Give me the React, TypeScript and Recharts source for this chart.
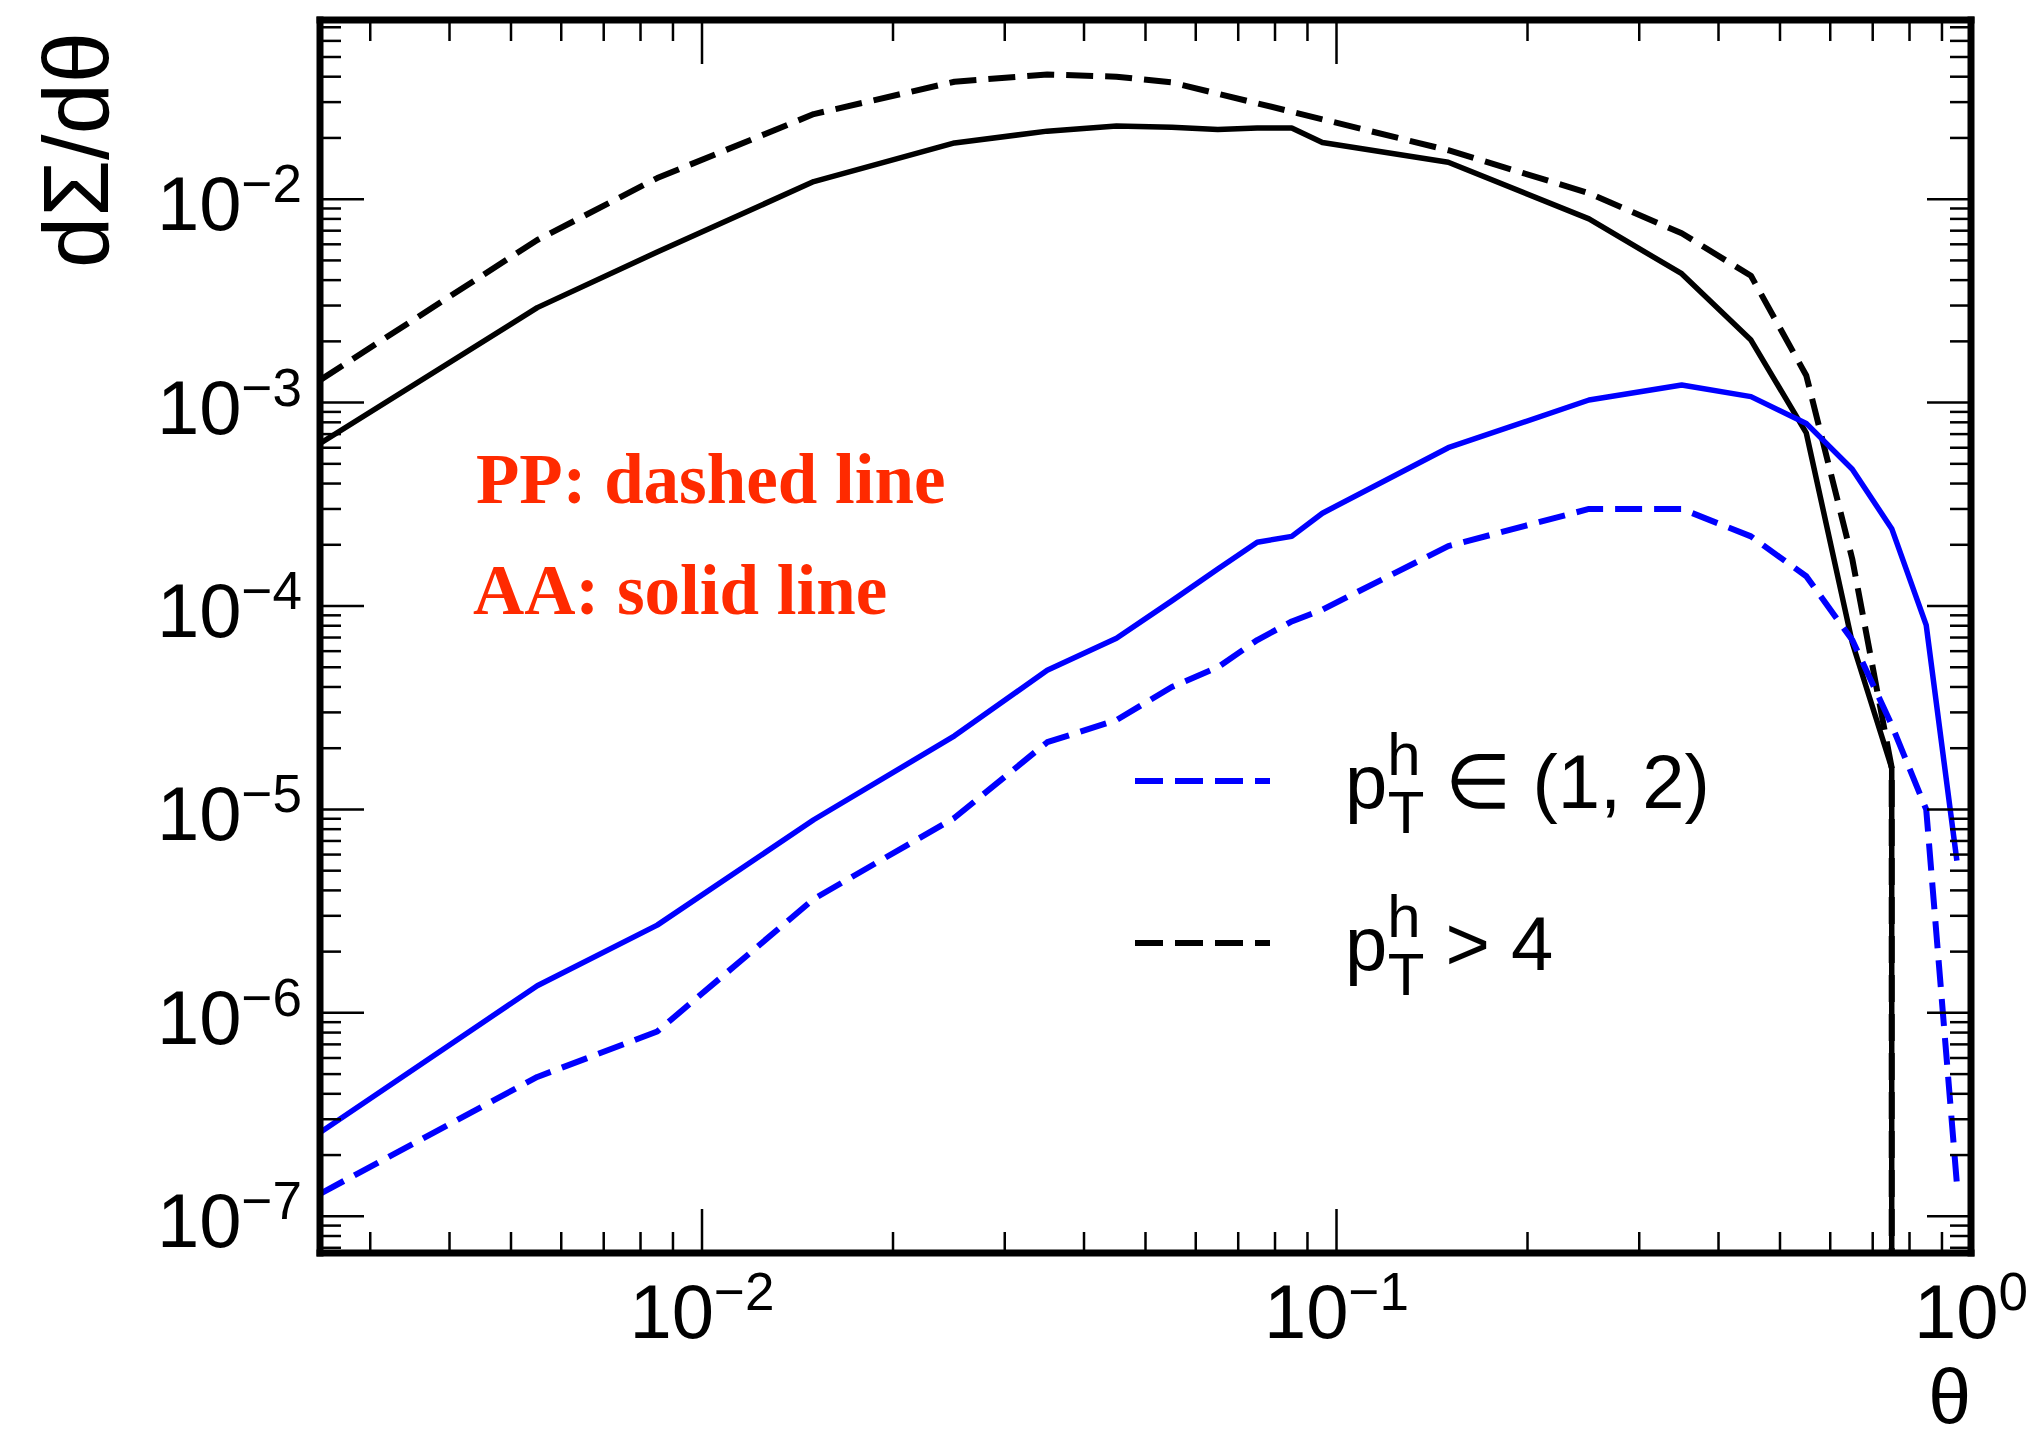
import React from "react";
import { LineChart, Line, XAxis, YAxis, Customized } from "recharts";

/* ── data ── */

const THETA = [
  0.0025, 0.0055, 0.0085, 0.015, 0.025, 0.035, 0.045, 0.055, 0.065, 0.075,
  0.085, 0.095, 0.15, 0.25, 0.35, 0.45, 0.55, 0.65, 0.75, 0.85, 0.95,
];

// p_T^h > 4 (black), PP dashed / AA solid; 0 = empty bin
const PP_HIGH = [
  1.29e-3, 6.3e-3, 1.27e-2, 2.62e-2, 3.78e-2, 4.1e-2, 4.0e-2, 3.75e-2, 3.3e-2,
  2.96e-2, 2.69e-2, 2.47e-2, 1.74e-2, 1.07e-2, 6.8e-3, 4.2e-3, 1.36e-3, 1.7e-4,
  1.6e-5, 0, 0,
];
const AA_HIGH = [
  6.3e-4, 2.93e-3, 5.5e-3, 1.22e-2, 1.89e-2, 2.16e-2, 2.29e-2, 2.26e-2, 2.2e-2,
  2.24e-2, 2.24e-2, 1.9e-2, 1.52e-2, 8.0e-3, 4.3e-3, 2.03e-3, 7.1e-4, 6.6e-5,
  1.6e-5, 0, 0,
];

// p_T^h in (1,2) (blue)
const AA_LOW = [
  2.58e-7, 1.36e-6, 2.7e-6, 8.9e-6, 2.3e-5, 4.83e-5, 6.95e-5, 1.06e-4, 1.52e-4,
  2.06e-4, 2.2e-4, 2.86e-4, 6.0e-4, 1.03e-3, 1.22e-3, 1.07e-3, 7.9e-4, 4.7e-4,
  2.4e-4, 8.05e-5, 5.6e-6,
];
const PP_LOW = [
  1.29e-7, 4.84e-7, 8.1e-7, 3.63e-6, 9.1e-6, 2.14e-5, 2.75e-5, 4.0e-5, 5.0e-5,
  6.8e-5, 8.4e-5, 9.6e-5, 1.97e-4, 3.0e-4, 3.0e-4, 2.2e-4, 1.4e-4, 6.8e-5,
  2.6e-5, 1.0e-5, 1.45e-7,
];

const X_DOMAIN: [number, number] = [0.0025, 1];
const Y_DOMAIN: [number, number] = [6.6e-8, 0.076];
const MANTISSAS = [1, 2, 3, 4, 5, 6, 7, 8, 9];
const X_DECADES = [-3, -2, -1, 0];
const Y_DECADES = [-8, -7, -6, -5, -4, -3, -2];

const inRange = (v: number, [a, b]: [number, number]) =>
  v >= a * 0.9999 && v <= b * 1.0001;
const X_TICKS = X_DECADES.flatMap((e) =>
  MANTISSAS.map((m) => Number(`${m}e${e}`))
).filter((v) => inRange(v, X_DOMAIN));
const Y_TICKS = Y_DECADES.flatMap((e) =>
  MANTISSAS.map((m) => Number(`${m}e${e}`))
).filter((v) => inRange(v, Y_DOMAIN));

/* ── helpers ── */

const FLOOR = 1e-10; // empty bin: line drops to the bottom of the frame

function toPoints(values: number[]) {
  const pts: { theta: number; v: number }[] = [];
  values.forEach((v, i) => {
    if (v > 0) pts.push({ theta: THETA[i], v });
    else if (i > 0 && values[i - 1] > 0)
      pts.push({ theta: THETA[i - 1], v: FLOOR });
  });
  return pts;
}

const ppHigh = toPoints(PP_HIGH);
const aaHigh = toPoints(AA_HIGH);
const aaLow = toPoints(AA_LOW);
const ppLow = toPoints(PP_LOW);

const SANS = "'Liberation Sans', Arial, Helvetica, sans-serif";
const MAJOR = 44;
const MINOR = 21;
const TICK_W = 2.5;
const FRAME = { stroke: "#000", strokeWidth: 7, strokeLinecap: "square" };

const decade = (v: number) => Math.round(Math.log10(v));
const isMajor = (v: number) => Math.abs(Math.log10(v) - decade(v)) < 1e-6;
const expText = (v: number) => {
  const e = decade(v);
  return e < 0 ? `\u2212${-e}` : `${e}`;
};

function Pow10({ x, y, v, anchor }: any) {
  return (
    <text x={x} y={y} textAnchor={anchor} fontFamily={SANS} fontSize={76} fill="#000">
      10
      <tspan dy={-28} fontSize={53}>
        {expText(v)}
      </tspan>
    </text>
  );
}

function BottomTick({ x, y, payload }: any) {
  const major = isMajor(payload.value);
  return (
    <g>
      <line x1={x} x2={x} y1={y} y2={y - (major ? MAJOR : MINOR)} stroke="#000" strokeWidth={TICK_W} />
      {major && <Pow10 x={x} y={y + 85} v={payload.value} anchor="middle" />}
    </g>
  );
}

function TopTick({ x, y, payload }: any) {
  const major = isMajor(payload.value);
  return <line x1={x} x2={x} y1={y} y2={y + (major ? MAJOR : MINOR)} stroke="#000" strokeWidth={TICK_W} />;
}

function LeftTick({ x, y, payload }: any) {
  const major = isMajor(payload.value);
  return (
    <g>
      <line x1={x} x2={x + (major ? MAJOR : MINOR)} y1={y} y2={y} stroke="#000" strokeWidth={TICK_W} />
      {major && <Pow10 x={x - 18} y={y + 31} v={payload.value} anchor="end" />}
    </g>
  );
}

function RightTick({ x, y, payload }: any) {
  const major = isMajor(payload.value);
  return <line x1={x} x2={x - (major ? MAJOR : MINOR)} y1={y} y2={y} stroke="#000" strokeWidth={TICK_W} />;
}

/* ── titles, legend, annotation ── */

// p_T^h followed by the rest of the label, in one text element
function PtLabel({ x, y, rest }: { x: number; y: number; rest: string }) {
  return (
    <text x={x} y={y} fontFamily={SANS} fontSize={76} fill="#000">
      p
      <tspan dy={-33} fontSize={60}>h</tspan>
      <tspan dx={-33} dy={58} fontSize={60}>T</tspan>
      <tspan dy={-25} fontSize={76}>{rest}</tspan>
    </text>
  );
}

function Overlay() {
  return (
    <g>
      <text
        x={108}
        y={32}
        transform="rotate(-90, 108, 32)"
        textAnchor="end"
        fontFamily={SANS}
        fontSize={92}
        fill="#000"
      >
        dΣ/dθ
      </text>
      <text x={1971} y={1424} textAnchor="end" fontFamily={SANS} fontSize={77} fill="#000">
        θ
      </text>

      <g fontFamily="'Liberation Serif', 'Times New Roman', serif" fontWeight="bold" fontSize={71} fill="#ff2a00">
        <text x={476} y={503}>PP: dashed line</text>
        <text x={473} y={614}>AA: solid line</text>
      </g>

      <line x1={1135} x2={1270} y1={781} y2={781} stroke="#0000ff" strokeWidth={6} strokeDasharray="28 12" />
      <PtLabel x={1345} y={808} rest={" \u2208 (1, 2)"} />

      <line x1={1135} x2={1270} y1={943} y2={943} stroke="#000" strokeWidth={6} strokeDasharray="28 12" />
      <PtLabel x={1345} y={970} rest={" > 4"} />
    </g>
  );
}

/* ── chart ── */

const lineProps = {
  xAxisId: "b",
  yAxisId: "l",
  dataKey: "v",
  dot: false,
  isAnimationActive: false,
  strokeLinejoin: "round" as const,
};

export default function App() {
  return (
    <div style={{ position: "absolute", left: 0, top: 0, width: 2034, height: 1441, background: "#fff" }}>
      <LineChart width={2034} height={1441} margin={{ top: 10, right: 43, bottom: 68, left: 80 }}>
        <XAxis
          xAxisId="b"
          dataKey="theta"
          type="number"
          scale="log"
          domain={X_DOMAIN}
          allowDataOverflow
          ticks={X_TICKS}
          interval={0}
          height={120}
          tickSize={0}
          tickMargin={0}
          tickLine={false}
          axisLine={FRAME}
          tick={(p: any) => <BottomTick {...p} />}
        />
        <XAxis
          xAxisId="t"
          orientation="top"
          dataKey="theta"
          type="number"
          scale="log"
          domain={X_DOMAIN}
          allowDataOverflow
          ticks={X_TICKS}
          interval={0}
          height={10}
          tickSize={0}
          tickMargin={0}
          tickLine={false}
          axisLine={FRAME}
          tick={(p: any) => <TopTick {...p} />}
        />
        <YAxis
          yAxisId="l"
          type="number"
          scale="log"
          domain={Y_DOMAIN}
          allowDataOverflow
          ticks={Y_TICKS}
          interval={0}
          width={240}
          tickSize={0}
          tickMargin={0}
          tickLine={false}
          axisLine={FRAME}
          tick={(p: any) => <LeftTick {...p} />}
        />
        <YAxis
          yAxisId="r"
          orientation="right"
          type="number"
          scale="log"
          domain={Y_DOMAIN}
          allowDataOverflow
          ticks={Y_TICKS}
          interval={0}
          width={20}
          tickSize={0}
          tickMargin={0}
          tickLine={false}
          axisLine={FRAME}
          tick={(p: any) => <RightTick {...p} />}
        />

        <Line {...lineProps} data={ppHigh} stroke="#000" strokeWidth={6} strokeDasharray="27 12" />
        <Line {...lineProps} data={aaHigh} stroke="#000" strokeWidth={5.5} />
        <Line {...lineProps} data={ppLow} stroke="#0000ff" strokeWidth={6} strokeDasharray="27 12" />
        <Line {...lineProps} data={aaLow} stroke="#0000ff" strokeWidth={5.5} />
        <Line
          xAxisId="t"
          yAxisId="r"
          dataKey="v"
          data={aaLow}
          stroke="none"
          dot={false}
          activeDot={false}
          isAnimationActive={false}
        />

        <Customized component={<Overlay />} />
      </LineChart>
    </div>
  );
}
